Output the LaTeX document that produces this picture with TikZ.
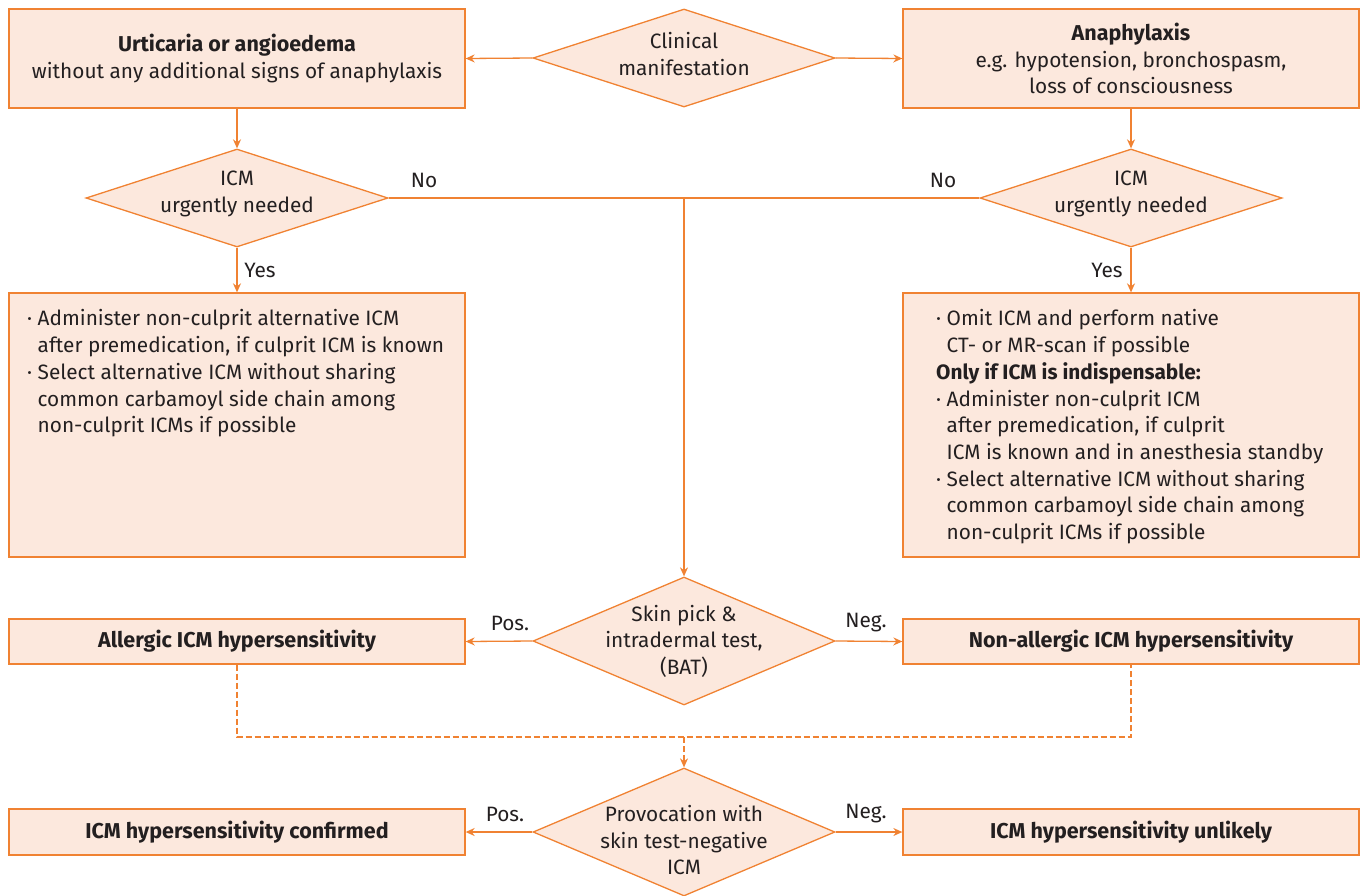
\documentclass[tikz,border=0pt]{standalone}
\usepackage{fontspec}
\setmainfont{Fira Sans}
\usetikzlibrary{shapes.geometric,arrows.meta}
\definecolor{org}{HTML}{F08232}
\definecolor{pch}{HTML}{FCE8DD}
\definecolor{txt}{HTML}{231F20}
\begin{document}
\begin{tikzpicture}[x=1pt,y=-1pt,
  every node/.style={text=txt},
  box/.style={draw=org, fill=pch, line width=1.3pt, inner sep=0pt, minimum width=456pt, align=center,
    font=\fontsize{20.8}{26.7}\selectfont},
  bbox/.style={box, font=\bfseries\fontsize{21.5}{26.7}\selectfont},
  dia/.style={draw=org, fill=pch, line width=1.3pt, shape=diamond, inner sep=0pt, minimum width=302pt},
  dtext/.style={align=center, font=\fontsize{20.8}{26.5}\selectfont},
  lab/.style={font=\fontsize{20.8}{24}\selectfont, inner sep=0pt},
  btext/.style={align=left, anchor=north west, inner sep=0pt, font=\fontsize{20.8}{26.7}\selectfont},
  conn/.style={draw=org, line width=1.3pt},
  arr/.style={conn, -{Stealth[length=9pt,width=8pt]}},
  dsh/.style={conn, dash pattern=on 6pt off 3pt}
]
\path[use as bounding box] (0,0) rectangle (1363,895);

% top row
\node[box, minimum height=99pt] (b1) at (237,58.5) {{\bfseries\fontsize{21.5}{26.7}\selectfont Urticaria or angioedema}\\without any additional signs of anaphylaxis};
\node[dia, minimum height=98pt] (d1) at (684,58) {};
\node[dtext] at ([yshift=4pt]d1.center) {Clinical\\manifestation};
\node[box, minimum height=99pt] (b2) at (1131,58.5) {{\bfseries\fontsize{21.5}{26.7}\selectfont Anaphylaxis}\\e.g. hypotension, bronchospasm,\\loss of consciousness};

% decision row
\node[dia, minimum height=98pt] (d2) at (237,198) {};
\node[dtext] at ([yshift=4pt]d2.center) {ICM\\urgently needed};
\node[dia, minimum height=98pt] (d3) at (1131,198) {};
\node[dtext] at ([yshift=4pt]d3.center) {ICM\\urgently needed};

% management boxes
\node[box, minimum height=264pt] (b3) at (237,425) {};
\node[btext] (t3) at (27,309.5) {·\ Administer non-culprit alternative ICM\\
\phantom{·\ }after premedication, if culprit ICM is known\\
·\ Select alternative ICM without sharing\\
\phantom{·\ }common carbamoyl side chain among\\
\phantom{·\ }non-culprit ICMs if possible};
\node[box, minimum height=264pt] (b4) at (1131,425) {};
\node[btext] (t4) at (936,309.5) {·\ Omit ICM and perform native\\
\phantom{·\ }CT- or MR-scan if possible\\
{\bfseries Only if ICM is indispensable:}\\
·\ Administer non-culprit ICM\\
\phantom{·\ }after premedication, if culprit\\
\phantom{·\ }ICM is known and in anesthesia standby\\
·\ Select alternative ICM without sharing\\
\phantom{·\ }common carbamoyl side chain among\\
\phantom{·\ }non-culprit ICMs if possible};

% skin test
\node[dia, minimum height=128pt] (d4) at (684,641) {};
\node[dtext] at (d4) {Skin pick \&\\intradermal test,\\(BAT)};
\node[bbox, minimum height=45pt] (b5) at (237,641.5) {Allergic ICM hypersensitivity};
\node[bbox, minimum height=45pt] (b6) at (1131,641.5) {Non-allergic ICM hypersensitivity};

% provocation
\node[dia, minimum height=128pt] (d5) at (684,832) {};
\node[dtext] at ([yshift=-8pt]d5.center) {Provocation with\\skin test-negative\\ICM};
\node[bbox, minimum height=46pt] (b7) at (237,832) {ICM hypersensitivity confirmed};
\node[bbox, minimum height=46pt] (b8) at (1131,832) {ICM hypersensitivity unlikely};

% connectors
\draw[arr] (d1.west) -- (b1.east);
\draw[arr] (d1.east) -- (b2.west);
\draw[arr] (b1.south) -- (d2.north);
\draw[arr] (b2.south) -- (d3.north);
\draw[conn] (d2.east) -- (d3.west);
\coordinate (j) at (684,198);
\draw[arr] (j) -- (d4.north);
\node[lab] at (424,180) {No};
\node[lab] at (943,180) {No};
\draw[arr] (d2.south) -- (b3.north);
\draw[arr] (d3.south) -- (b4.north);
\node[lab] at (260,270) {Yes};
\node[lab] at (1107,270) {Yes};
\draw[arr] (d4.west) -- (b5.east);
\draw[arr] (d4.east) -- (b6.west);
\node[lab] at (510,623) {Pos.};
\node[lab] at (866,623) {Neg.};
\coordinate (m) at (684,737);
\draw[dsh] (b5.south) |- (m) -| (b6.south);
\draw[dsh, -{Stealth[length=9pt,width=8pt]}] (m) -- (d5.north);
\draw[arr] (d5.west) -- (b7.east);
\draw[arr] (d5.east) -- (b8.west);
\node[lab] at (505,814) {Pos.};
\node[lab] at (866,814) {Neg.};
\end{tikzpicture}
\end{document}
